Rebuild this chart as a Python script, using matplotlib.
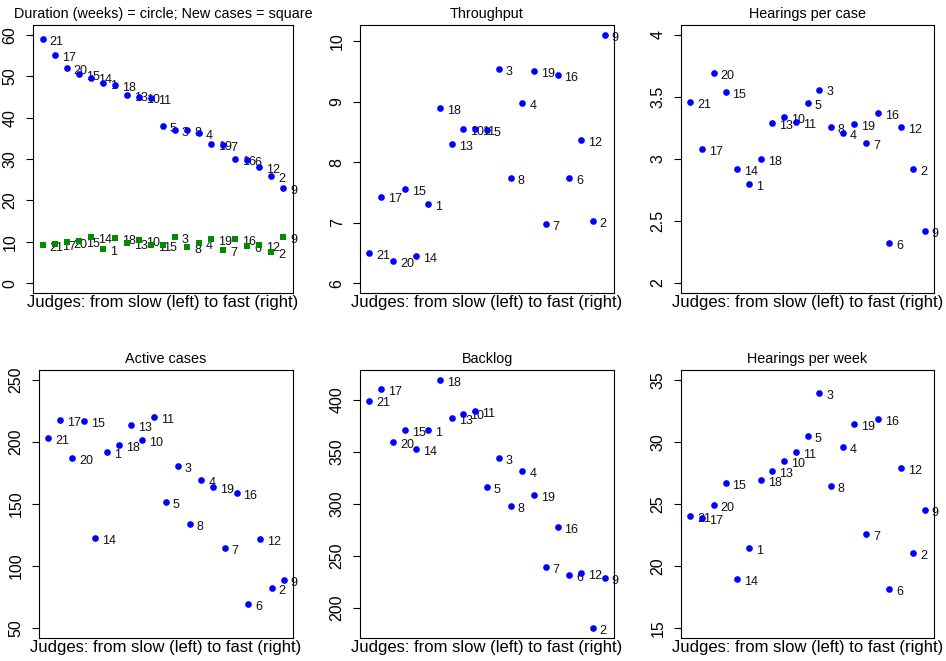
import matplotlib
matplotlib.use('Agg')
import matplotlib.pyplot as plt
from matplotlib.ticker import FuncFormatter

plt.rcParams['font.family'] = ['Liberation Sans', 'DejaVu Sans']

# Judges ordered from slow (left) to fast (right)
judges = [21, 17, 20, 15, 14, 1, 18, 13, 10, 11, 5, 3, 8, 4, 19, 7, 16, 6, 12, 2, 9]

duration_weeks = [59.0, 55.1, 52.1, 50.6, 49.7, 48.4, 47.8, 45.4, 44.9, 44.8, 37.9,
                  37.1, 37.1, 36.2, 33.6, 33.3, 29.9, 29.8, 28.0, 25.8, 23.1]
new_cases = [9.2, 9.5, 10.0, 10.2, 11.1, 8.3, 10.9, 9.8, 10.5, 9.2, 9.3,
             11.1, 8.8, 9.8, 10.6, 8.1, 10.6, 8.9, 9.3, 7.6, 11.1]
throughput = [6.49, 7.43, 6.37, 7.55, 6.45, 7.31, 8.90, 8.29, 8.55, 8.55, 8.53,
              9.54, 7.73, 8.98, 9.50, 6.97, 9.43, 7.73, 8.37, 7.02, 10.10]
hearings_per_case = [3.46, 3.08, 3.69, 3.54, 2.92, 2.80, 3.00, 3.29, 3.34, 3.30, 3.45,
                     3.56, 3.26, 3.21, 3.28, 3.13, 3.37, 2.32, 3.26, 2.92, 2.42]
active_cases = [203.2, 217.5, 187.1, 217.2, 122.8, 191.7, 197.3, 213.4, 201.9, 220.4, 151.9,
                180.4, 133.9, 169.1, 164.0, 114.5, 159.1, 69.4, 121.5, 82.3, 89.0]
backlog = [399.4, 410.6, 359.4, 370.6, 352.3, 370.6, 419.2, 382.1, 386.9, 389.1, 316.2,
           343.7, 298.2, 331.8, 308.8, 239.4, 278.1, 232.0, 233.9, 180.5, 229.1]
hearings_per_week = [24.06, 23.87, 24.89, 26.72, 18.92, 21.42, 26.96, 27.63, 28.44, 29.19, 30.46,
                     33.95, 26.45, 29.62, 31.48, 22.58, 31.85, 18.17, 27.88, 21.05, 24.54]

xlabel = "Judges: from slow (left) to fast (right)"
BLUE = '#0000FF'
GREEN = '#008B00'

W, H = 946, 661
fig = plt.figure(figsize=(W / 100, H / 100), dpi=100)

def add_ax(left, top, right, bottom):
    return fig.add_axes([left / W, 1 - bottom / H, (right - left) / W, (bottom - top) / H])

def extend(lo, hi):
    d = (hi - lo) * 0.04
    return lo - d, hi + d

fmt = FuncFormatter(lambda v, p: ('%g' % v))

def panel(ax, title, series, ylim, yticks):
    x = list(range(1, len(judges) + 1))
    for vals, marker, color in series:
        ax.plot(x, vals, linestyle='none', marker=marker, markersize=4.8,
                color=color, markeredgewidth=0, zorder=3, clip_on=False)
        for xi, yi, j in zip(x, vals, judges):
            ax.annotate(str(j), (xi, yi), xytext=(5.0, -4.3), textcoords='offset points',
                        ha='left', va='baseline', fontsize=9, color='#111111',
                        zorder=2, annotation_clip=False)
    ax.set_xlim(extend(1, len(judges)))
    ax.set_ylim(extend(*ylim))
    ax.set_xticks([])
    ax.set_yticks(yticks)
    ax.yaxis.set_major_formatter(fmt)
    ax.tick_params(axis='y', direction='out', length=5, width=0.8, pad=6,
                   labelsize=11.5, labelrotation=90)
    for lab in ax.get_yticklabels():
        lab.set_va('center')
    for s in ax.spines.values():
        s.set_linewidth(0.8)
    ax.set_title(title, fontsize=10.4, pad=5)
    ax.annotate(xlabel, (0.5, 0), xycoords='axes fraction', xytext=(0, -1.5),
                textcoords='offset points', ha='center', va='top', fontsize=12)

ax1 = add_ax(33, 25, 293, 293)
panel(ax1, "Duration (weeks) = circle; New cases = square",
      [(duration_weeks, 'o', BLUE), (new_cases, 's', GREEN)],
      (0, 60), [0, 10, 20, 30, 40, 50, 60])

ax2 = add_ax(360, 25, 614, 293)
panel(ax2, "Throughput", [(throughput, 'o', BLUE)],
      (6, max(throughput)), [6, 7, 8, 9, 10])

ax3 = add_ax(681, 25, 934, 293)
panel(ax3, "Hearings per case", [(hearings_per_case, 'o', BLUE)],
      (2, 4), [2, 2.5, 3, 3.5, 4])

ax4 = add_ax(39, 370, 293, 638)
panel(ax4, "Active cases", [(active_cases, 'o', BLUE)],
      (50, 250), [50, 100, 150, 200, 250])

ax5 = add_ax(360, 370, 614, 638)
panel(ax5, "Backlog", [(backlog, 'o', BLUE)],
      (min(backlog), max(backlog)), [200, 250, 300, 350, 400])

ax6 = add_ax(681, 370, 934, 638)
panel(ax6, "Hearings per week", [(hearings_per_week, 'o', BLUE)],
      (15, 35), [15, 20, 25, 30, 35])

fig.savefig('out.png', dpi=100)
